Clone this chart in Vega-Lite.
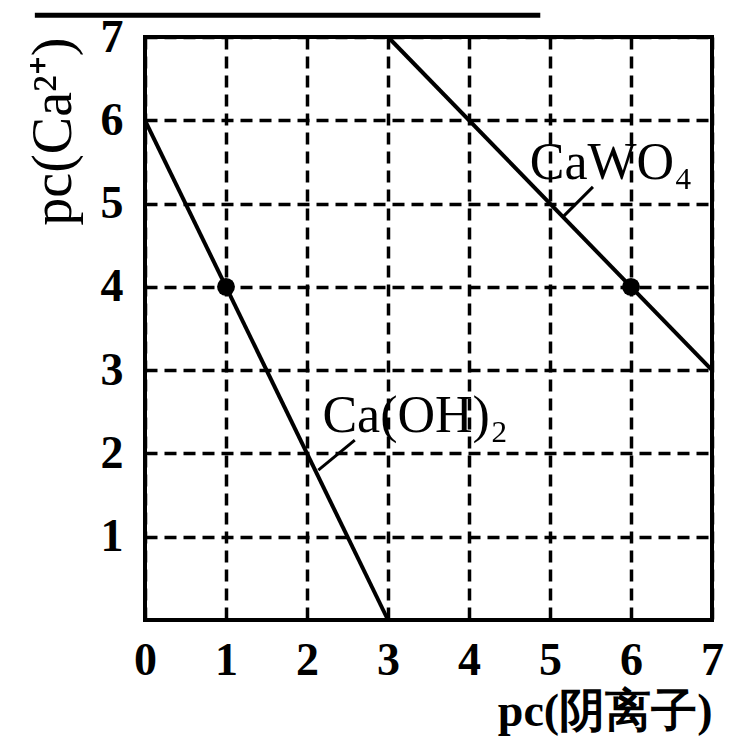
{
  "$schema": "https://vega.github.io/schema/vega-lite/v6.json",
  "width": 567,
  "height": 583,
  "autosize": {"type": "none"},
  "padding": {"left": 145, "top": 37, "right": 19, "bottom": 122},
  "background": "white",
  "config": {
    "view": {"stroke": "black", "strokeWidth": 4},
    "font": "Liberation Serif"
  },
  "datasets": {
    "lines": [
      {"series": "Ca(OH)2", "x": 0, "y": 6},
      {"series": "Ca(OH)2", "x": 3, "y": 0},
      {"series": "CaWO4", "x": 3, "y": 7},
      {"series": "CaWO4", "x": 7, "y": 3}
    ],
    "points": [
      {"x": 1, "y": 4},
      {"x": 6, "y": 4}
    ],
    "leaders": [
      {"name": "Ca(OH)2", "x": 2.14, "y": 1.8, "x2": 2.59, "y2": 2.16},
      {"name": "CaWO4", "x": 5.16, "y": 4.84, "x2": 5.53, "y2": 5.2}
    ],
    "labels": [
      {"text": "Ca(OH)₂", "x": 2.19, "y": 2.26},
      {"text": "CaWO₄", "x": 4.75, "y": 5.3}
    ],
    "topline": [
      {"x": -1.36, "x2": 4.88, "y": 7.26}
    ]
  },
  "layer": [
    {
      "data": {"name": "lines"},
      "mark": {"type": "line", "color": "black", "strokeWidth": 4},
      "encoding": {
        "x": {
          "field": "x", "type": "quantitative",
          "scale": {"domain": [0, 7], "nice": false},
          "axis": {
            "values": [0, 1, 2, 3, 4, 5, 6, 7], "format": "d", "labelOverlap": false, "labelFlush": false,
            "domain": false, "ticks": false,
            "grid": true, "gridColor": "black", "gridWidth": 3.5, "gridDash": [12, 7], "gridOpacity": 1,
            "labelFont": "Liberation Serif", "labelFontSize": 46, "labelFontWeight": "bold", "labelColor": "black",
            "labelPadding": 18,
            "title": "pc(阴离子)", "titleFont": "Liberation Serif", "titleFontSize": 46, "titleFontWeight": "bold",
            "titleColor": "black", "titleAnchor": "end", "titlePadding": 6
          }
        },
        "y": {
          "field": "y", "type": "quantitative",
          "scale": {"domain": [0, 7], "nice": false},
          "axis": {
            "values": [1, 2, 3, 4, 5, 6, 7], "format": "d", "labelOverlap": false, "labelFlush": false,
            "domain": false, "ticks": false,
            "grid": true, "gridColor": "black", "gridWidth": 3.5, "gridDash": [12, 7], "gridOpacity": 1,
            "labelFont": "Liberation Serif", "labelFontSize": 46, "labelFontWeight": "bold", "labelColor": "black",
            "labelPadding": 22,
            "title": "pc(Ca²⁺)", "titleFont": "Liberation Serif", "titleFontSize": 56, "titleFontWeight": "normal",
            "titleColor": "black", "titleAnchor": "end", "titlePadding": 18
          }
        },
        "detail": {"field": "series"}
      }
    },
    {
      "data": {"name": "points"},
      "mark": {"type": "point", "filled": true, "color": "black", "size": 320, "opacity": 1},
      "encoding": {
        "x": {"field": "x", "type": "quantitative"},
        "y": {"field": "y", "type": "quantitative"}
      }
    },
    {
      "data": {"name": "leaders"},
      "mark": {"type": "rule", "color": "black", "strokeWidth": 3},
      "encoding": {
        "x": {"field": "x", "type": "quantitative"},
        "y": {"field": "y", "type": "quantitative"},
        "x2": {"field": "x2"},
        "y2": {"field": "y2"}
      }
    },
    {
      "data": {"name": "labels"},
      "mark": {"type": "text", "align": "left", "baseline": "alphabetic", "font": "Liberation Serif", "fontSize": 52, "color": "black"},
      "encoding": {
        "x": {"field": "x", "type": "quantitative"},
        "y": {"field": "y", "type": "quantitative"},
        "text": {"field": "text"}
      }
    },
    {
      "data": {"name": "topline"},
      "mark": {"type": "rule", "color": "black", "strokeWidth": 5, "clip": false},
      "encoding": {
        "x": {"field": "x", "type": "quantitative"},
        "x2": {"field": "x2"},
        "y": {"field": "y", "type": "quantitative"}
      }
    }
  ]
}
